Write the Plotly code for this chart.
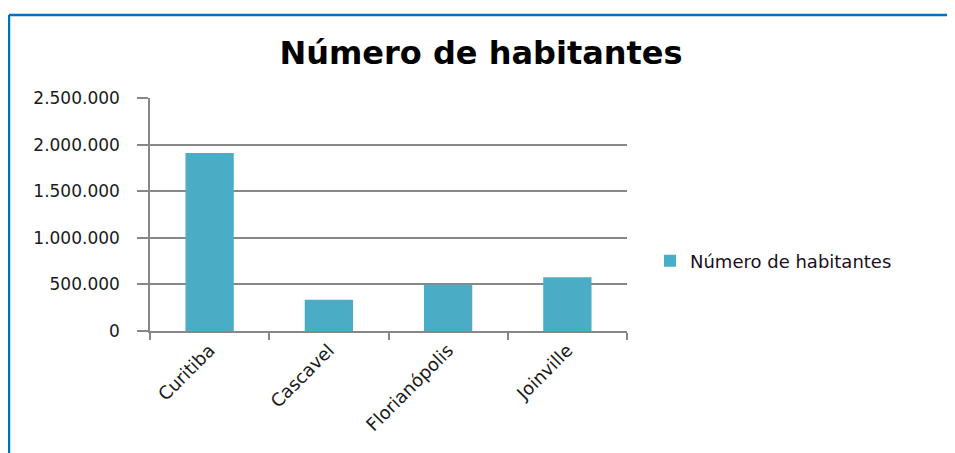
import plotly.graph_objects as go

cities = ["Curitiba", "Cascavel", "Florianópolis", "Joinville"]
habitantes = [1910000, 336000, 497000, 578000]
series_name = "Número de habitantes"
title_text = "Número de habitantes"
y_ticks = [0, 500000, 1000000, 1500000, 2000000, 2500000]

OFF = 8  # page body margin
W, H = 955 - OFF, 453 - OFF
L, R, T, B = 150 - OFF, 627 - OFF, 98 - OFF, 331 - OFF
pw, ph = R - L, B - T

def px_x(px):
    return (px - OFF - L) / pw

def px_y(py):
    return (B - (py - OFF)) / ph

fig = go.Figure()
fig.add_trace(go.Bar(
    x=cities, y=habitantes, name=series_name,
    marker=dict(color="#4BACC6", line=dict(width=0)),
    showlegend=True,
))

grid = "#878787"
font_family = "DejaVu Sans"

fig.update_layout(
    width=W, height=H,
    margin=dict(l=L, r=W - R, t=T, b=H - B),
    paper_bgcolor="white", plot_bgcolor="white",
    separators=",.",
    bargap=0.595,
    font=dict(family=font_family, color="#1a1a1a", size=16),
    title=dict(text="<b>" + title_text + "</b>", x=(481 - OFF) / W, xanchor="center",
               xref="container", yref="container", y=1 - (53 - OFF) / H, yanchor="middle",
               font=dict(family=font_family, size=32, color="#000000")),
    showlegend=True,
    legend=dict(x=px_x(650), xanchor="left", y=px_y(261), yanchor="middle",
                font=dict(family=font_family, size=18, color="#1a1020"),
                bgcolor="rgba(0,0,0,0)"),
    xaxis=dict(
        type="category", tickson="boundaries", ticks="outside", ticklen=7,
        tickcolor=grid, tickwidth=1.5, showline=True, linecolor=grid, linewidth=1.5,
        showgrid=False, tickangle=-45,
        tickfont=dict(family=font_family, size=18, color="#1a1a1a"),
    ),
    yaxis=dict(
        range=[0, 2500000], tickvals=y_ticks, tickformat=",d",
        ticks="outside", ticklen=11, tickcolor=grid, tickwidth=1.5,
        showline=True, linecolor=grid, linewidth=1.5,
        showgrid=True, gridcolor=grid, gridwidth=1.5, zeroline=False,
        ticklabelstandoff=14,
        tickfont=dict(family=font_family, size=17, color="#1a1a1a"),
    ),
)

# blue frame (top and left edges visible)
fig.add_shape(type="line", xref="paper", yref="paper",
              x0=px_x(9), x1=px_x(970), y0=px_y(15), y1=px_y(15),
              line=dict(color="#0070C0", width=2.5))
fig.add_shape(type="line", xref="paper", yref="paper",
              x0=px_x(9), x1=px_x(9), y0=px_y(15), y1=px_y(470),
              line=dict(color="#0070C0", width=2.5))

fig.write_html("out.html")
